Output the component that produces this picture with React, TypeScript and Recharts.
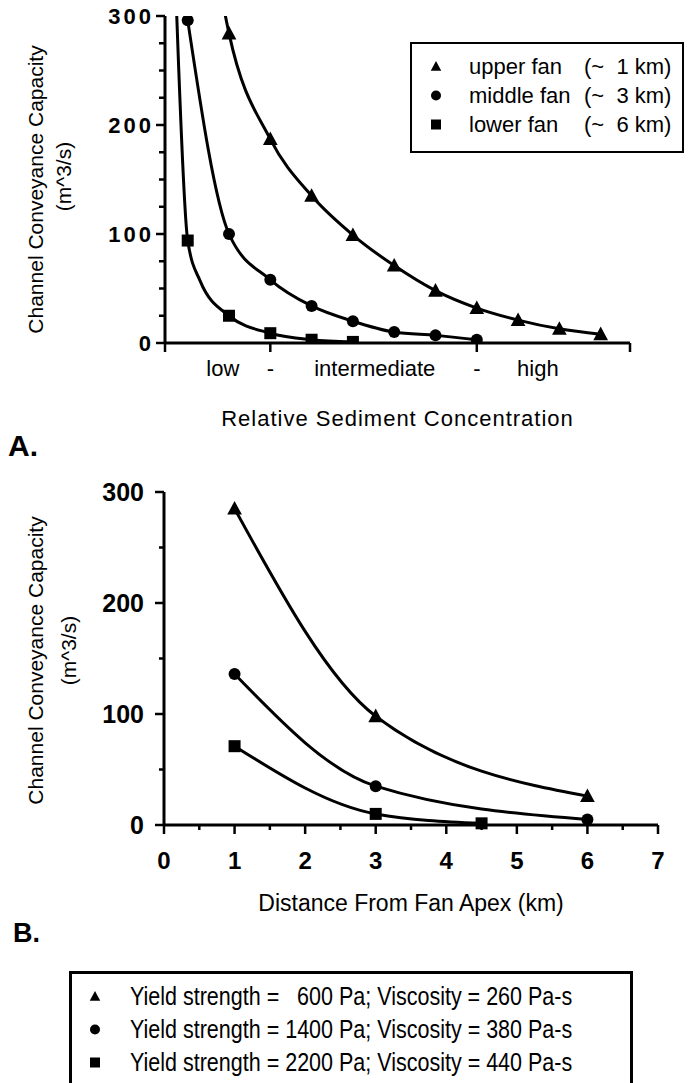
import React from "react";
import { LineChart, Line, XAxis, YAxis, Legend } from "recharts";

const FONT = '"Liberation Sans", Arial, Helvetica, sans-serif';

// ---- A. capacity vs relative sediment concentration ----
// x is the position of a point along the unitless concentration axis
const upperFanPos = [1, 2, 3, 4, 5, 6, 7, 8, 9, 10];
const upperFanQ = [284, 187, 135, 99, 71, 48, 32, 21, 13, 8];
const middleFanPos = [0, 1, 2, 3, 4, 5, 6, 7];
const middleFanQ = [296, 100, 58, 34, 20, 10, 7, 3];
const lowerFanPos = [0, 1, 2, 3, 4];
const lowerFanQ = [94, 25, 9, 3, 1];
// where the drawn curves run off the top of the frame or bend (no symbol)
const upperFanGuide = [[0.85, 312]];
const lowerFanGuide = [
  [-0.27, 305],
  [0.3, 57],
];

const concDomain = [-0.55, 10.71];
const concTickMarks = [-0.55, 2, 7, 10.71];
const concLabelPos = [0.85, 2, 4.53, 7, 8.48];
const concLabels = ["low", "-", "intermediate", "-", "high"];

const fanNames = ["upper fan", "middle fan", "lower fan"];
const fanDistances = ["(~  1 km)", "(~  3 km)", "(~  6 km)"];

// ---- B. capacity vs distance from fan apex (km) ----
const triDist = [1, 3, 6];
const triQ = [285, 98, 26];
const circDist = [1, 3, 6];
const circQ = [136, 35, 5];
const sqDist = [1, 3, 4.5];
const sqQ = [71, 10, 1.5];

const rheologyNames = [
  "Yield strength =   600 Pa; Viscosity = 260 Pa-s",
  "Yield strength = 1400 Pa; Viscosity = 380 Pa-s",
  "Yield strength = 2200 Pa; Viscosity = 440 Pa-s",
];

const shapes = ["triangle", "circle", "square"];

const qTicksA = [0, 25, 50, 75, 100, 125, 150, 175, 200, 225, 250, 275, 300];
const qTicksB = [0, 50, 100, 150, 200, 250, 300];
const distTicks = [0, 0.5, 1, 1.5, 2, 2.5, 3, 3.5, 4, 4.5, 5, 5.5, 6, 6.5, 7];

type Pt = { x: number; y: number; mark: boolean };

const build = (xs: number[], ys: number[], guide: number[][] = []): Pt[] =>
  [
    ...xs.map((x, i) => ({ x, y: ys[i], mark: true })),
    ...guide.map(([x, y]) => ({ x, y, mark: false })),
  ].sort((a, b) => a.x - b.x);

const upperFan = build(upperFanPos, upperFanQ, upperFanGuide);
const middleFan = build(middleFanPos, middleFanQ);
const lowerFan = build(lowerFanPos, lowerFanQ, lowerFanGuide);

const triLine = build(triDist, triQ);
const circLine = build(circDist, circQ);
const sqLine = build(sqDist, sqQ);

const Marker = ({ shape, cx, cy, size }: any) => {
  const h = size / 2;
  if (shape === "triangle")
    return (
      <path
        d={`M${cx},${cy - h * 1.1}L${cx + h * 1.05},${cy + h * 0.85}L${cx - h * 1.05},${cy + h * 0.85}Z`}
        fill="#000"
      />
    );
  if (shape === "circle") return <circle cx={cx} cy={cy} r={h} fill="#000" />;
  return <rect x={cx - h} y={cy - h} width={size} height={size} fill="#000" />;
};

const dotFor = (shape: string, size: number) => (props: any) => {
  const { cx, cy, payload, index } = props;
  if (!payload || !payload.mark || cx == null) return <g key={`n${index}`} />;
  return (
    <g key={`m${index}`}>
      <Marker shape={shape} cx={cx} cy={cy} size={size} />
    </g>
  );
};

const YTitle = (props: any) => {
  const { viewBox, x1, x2, d1, d2 } = props;
  const cy = viewBox.y + viewBox.height / 2;
  const line = (x: number, y: number, s: string) => (
    <text
      x={x}
      y={y}
      transform={`rotate(-90, ${x}, ${y})`}
      textAnchor="middle"
      dominantBaseline="central"
      fontFamily={FONT}
      fontSize={21}
      fill="#000"
    >
      {s}
    </text>
  );
  return (
    <g>
      {line(x1, cy + d1, "Channel Conveyance Capacity")}
      {line(x2, cy + d2, "(m^3/s)")}
    </g>
  );
};

const QTickA = (props: any) => {
  const { x, y, payload } = props;
  const major = payload.value % 100 === 0;
  return (
    <g>
      <line x1={x - (major ? 9 : 6)} x2={x} y1={y} y2={y} stroke="#000" strokeWidth={2.5} />
      {major && (
        <text
          x={x - 11}
          y={y}
          textAnchor="end"
          dominantBaseline="central"
          fontFamily={FONT}
          fontWeight="bold"
          fontSize={22}
          letterSpacing={3}
          fill="#000"
        >
          {payload.value}
        </text>
      )}
    </g>
  );
};

const ConcTick = (props: any) => {
  const { x, y, payload } = props;
  const v = payload.value;
  const mark = concTickMarks.includes(v);
  const li = concLabelPos.indexOf(v);
  return (
    <g>
      {mark && <line x1={x} x2={x} y1={y} y2={y + 9} stroke="#000" strokeWidth={2.5} />}
      {li >= 0 && (
        <text
          x={x}
          y={y + 25}
          textAnchor="middle"
          dominantBaseline="central"
          fontFamily={FONT}
          fontSize={22}
          fill="#000"
        >
          {concLabels[li]}
        </text>
      )}
    </g>
  );
};

const QTickB = (props: any) => {
  const { x, y, payload } = props;
  const major = payload.value % 100 === 0;
  return (
    <g>
      <line x1={x - (major ? 9 : 5)} x2={x} y1={y} y2={y} stroke="#000" strokeWidth={2.5} />
      {major && (
        <text
          x={x - 20}
          y={y}
          textAnchor="end"
          dominantBaseline="central"
          fontFamily={FONT}
          fontWeight="bold"
          fontSize={25}
          fill="#000"
        >
          {payload.value}
        </text>
      )}
    </g>
  );
};

const DistTick = (props: any) => {
  const { x, y, payload } = props;
  const major = Number.isInteger(payload.value);
  return (
    <g>
      <line x1={x} x2={x} y1={y} y2={y + (major ? 9 : 5)} stroke="#000" strokeWidth={2.5} />
      {major && (
        <text
          x={x}
          y={y + 35}
          textAnchor="middle"
          dominantBaseline="central"
          fontFamily={FONT}
          fontWeight="bold"
          fontSize={24}
          fill="#000"
        >
          {payload.value}
        </text>
      )}
    </g>
  );
};

// legend rows follow the series order of the arrays, not the legend's sorted payload
const FanLegend = () => (
  <div
    style={{
      boxSizing: "border-box",
      width: "100%",
      height: "100%",
      border: "2.5px solid #000",
      paddingTop: 8,
      fontFamily: FONT,
      fontSize: 22,
      color: "#000",
    }}
  >
    {fanNames.map((name, i) => (
      <div key={name} style={{ display: "flex", alignItems: "center", height: 29, whiteSpace: "pre" }}>
        <svg width={57} height={29} style={{ flexShrink: 0 }}>
          <Marker shape={shapes[i]} cx={24} cy={14.5} size={10} />
        </svg>
        <span style={{ width: 115, flexShrink: 0 }}>{name}</span>
        <span>{fanDistances[i]}</span>
      </div>
    ))}
  </div>
);

const RheologyLegend = () => (
  <div
    style={{
      boxSizing: "border-box",
      width: "100%",
      height: "100%",
      border: "3px solid #000",
      paddingTop: 6,
      fontFamily: FONT,
      fontSize: 25,
      color: "#000",
    }}
  >
    {rheologyNames.map((name, i) => (
      <div key={name} style={{ display: "flex", alignItems: "center", height: 33, whiteSpace: "pre" }}>
        <svg width={58} height={33} style={{ flexShrink: 0 }}>
          <Marker shape={shapes[i]} cx={23} cy={16.5} size={10} />
        </svg>
        <span
          style={{
            display: "inline-block",
            transform: "scaleX(0.86)",
            transformOrigin: "left center",
          }}
        >
          {name}
        </span>
      </div>
    ))}
  </div>
);

const axisLine = { stroke: "#000", strokeWidth: 3 };

export default function App() {
  return (
    <div
      style={{
        position: "absolute",
        left: 0,
        top: 0,
        width: 689,
        height: 1083,
        overflow: "hidden",
        background: "#fff",
        fontFamily: FONT,
      }}
    >
      <div style={{ position: "absolute", left: 0, top: 0 }}>
        <LineChart width={689} height={440} margin={{ top: 16, right: 59, left: 0, bottom: 0 }}>
          <XAxis
            dataKey="x"
            type="number"
            domain={concDomain}
            ticks={[...new Set([...concTickMarks, ...concLabelPos])].sort((a, b) => a - b)}
            interval={0}
            allowDataOverflow
            height={97}
            tickSize={0}
            tickMargin={0}
            tickLine={false}
            axisLine={axisLine}
            tick={<ConcTick />}
            label={{
              value: "Relative Sediment Concentration",
              position: "insideTop",
              offset: 67,
              fontFamily: FONT,
              fontSize: 22,
              letterSpacing: 1,
              fill: "#000",
            }}
          />
          <YAxis
            type="number"
            domain={[0, 300]}
            allowDataOverflow
            ticks={qTicksA}
            interval={0}
            width={165}
            tickSize={0}
            tickMargin={0}
            tickLine={false}
            axisLine={axisLine}
            tick={<QTickA />}
            label={<YTitle x1={35} x2={63} d1={10} d2={-3} />}
          />
          <Legend
            layout="vertical"
            align="center"
            verticalAlign="middle"
            wrapperStyle={{ left: 410, top: 42, width: 274, height: 111 }}
            content={<FanLegend />}
          />
          <Line
            data={upperFan}
            dataKey="y"
            name={fanNames[0]}
            type="monotone"
            stroke="#000"
            strokeWidth={3}
            dot={dotFor(shapes[0], 14)}
            activeDot={false}
            isAnimationActive={false}
          />
          <Line
            data={middleFan}
            dataKey="y"
            name={fanNames[1]}
            type="monotone"
            stroke="#000"
            strokeWidth={3}
            dot={dotFor(shapes[1], 12)}
            activeDot={false}
            isAnimationActive={false}
          />
          <Line
            data={lowerFan}
            dataKey="y"
            name={fanNames[2]}
            type="monotone"
            stroke="#000"
            strokeWidth={3}
            dot={dotFor(shapes[2], 12)}
            activeDot={false}
            isAnimationActive={false}
          />
        </LineChart>
      </div>

      <div
        style={{
          position: "absolute",
          left: 8,
          top: 431,
          fontSize: 30,
          fontWeight: "bold",
          lineHeight: 1,
        }}
      >
        A.
      </div>

      <div style={{ position: "absolute", left: 0, top: 470 }}>
        <LineChart width={689} height={613} margin={{ top: 22, right: 31, left: 0, bottom: 188 }}>
          <XAxis
            dataKey="x"
            type="number"
            domain={[0, 7]}
            ticks={distTicks}
            interval={0}
            height={70}
            tickSize={0}
            tickMargin={0}
            tickLine={false}
            axisLine={axisLine}
            tick={<DistTick />}
            label={{
              value: "Distance From Fan Apex (km)",
              position: "insideTop",
              offset: 70,
              fontFamily: FONT,
              fontSize: 23,
              fill: "#000",
            }}
          />
          <YAxis
            type="number"
            domain={[0, 300]}
            ticks={qTicksB}
            interval={0}
            width={164}
            tickSize={0}
            tickMargin={0}
            tickLine={false}
            axisLine={axisLine}
            tick={<QTickB />}
            label={<YTitle x1={35} x2={68} d1={2} d2={-8} />}
          />
          <Legend
            layout="vertical"
            align="center"
            verticalAlign="middle"
            wrapperStyle={{ left: 69, top: 501, width: 564, height: 130 }}
            content={<RheologyLegend />}
          />
          <Line
            data={triLine}
            dataKey="y"
            name={rheologyNames[0]}
            type="monotone"
            stroke="#000"
            strokeWidth={3}
            dot={dotFor(shapes[0], 14)}
            activeDot={false}
            isAnimationActive={false}
          />
          <Line
            data={circLine}
            dataKey="y"
            name={rheologyNames[1]}
            type="monotone"
            stroke="#000"
            strokeWidth={3}
            dot={dotFor(shapes[1], 12)}
            activeDot={false}
            isAnimationActive={false}
          />
          <Line
            data={sqLine}
            dataKey="y"
            name={rheologyNames[2]}
            type="monotone"
            stroke="#000"
            strokeWidth={3}
            dot={dotFor(shapes[2], 12)}
            activeDot={false}
            isAnimationActive={false}
          />
        </LineChart>
      </div>

      <div
        style={{
          position: "absolute",
          left: 13,
          top: 920,
          fontSize: 27,
          fontWeight: "bold",
          lineHeight: 1,
        }}
      >
        B.
      </div>
    </div>
  );
}
